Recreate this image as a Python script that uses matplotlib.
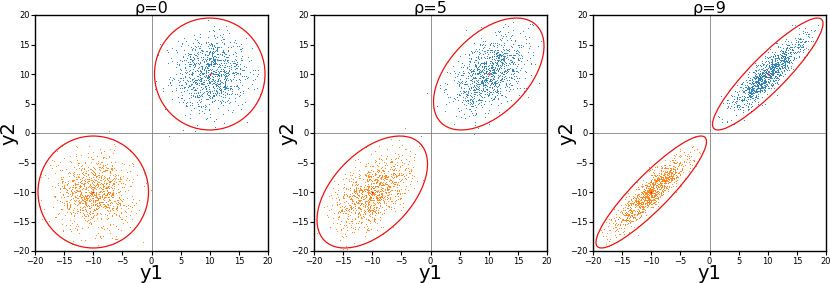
import numpy as np
import matplotlib
matplotlib.use("Agg")
import matplotlib.pyplot as plt
from matplotlib.patches import Ellipse

# Data (distribution parameters)
rhos = [0, 5, 9]
titles = ["ρ=0", "ρ=5", "ρ=9"]
variance = 10.0
mean_blue = [10.0, 10.0]
mean_orange = [-10.0, -10.0]
n_points = 1000
n_sigma = 3.0
tick_vals = [-20, -15, -10, -5, 0, 5, 10, 15, 20]

rng = np.random.default_rng(3)

fig = plt.figure(figsize=(8.3, 2.83), dpi=100)
lefts = [35 / 830, 314 / 830, 593 / 830]
width = 233 / 830
bottom = 32 / 283
height = 236 / 283

for i, rho in enumerate(rhos):
    ax = fig.add_axes([lefts[i], bottom, width, height])
    cov = np.array([[variance, rho], [rho, variance]])
    for mean, color in [(mean_blue, "#1f77b4"), (mean_orange, "#ff7f0e")]:
        pts = rng.multivariate_normal(mean, cov, size=n_points)
        ax.scatter(pts[:, 0], pts[:, 1], s=0.5, c=color, linewidths=0, alpha=0.85)
        vals, vecs = np.linalg.eigh(cov)
        order = vals.argsort()[::-1]
        vals, vecs = vals[order], vecs[:, order]
        angle = np.degrees(np.arctan2(vecs[1, 0], vecs[0, 0]))
        w, h = 2 * n_sigma * np.sqrt(vals)
        ax.add_patch(Ellipse(mean, w, h, angle=angle, fill=False,
                             edgecolor="#ee1111", linewidth=0.9))
        ax.scatter([mean[0]], [mean[1]], s=2, c="red", linewidths=0)
    ax.axhline(0, color="gray", linewidth=0.6, zorder=0)
    ax.axvline(0, color="gray", linewidth=0.6, zorder=0)
    ax.set_xlim(-20, 20)
    ax.set_ylim(-20, 20)
    ax.set_xticks(tick_vals)
    ax.set_yticks(tick_vals)
    ax.tick_params(labelsize=6, length=3, width=0.8, pad=1)
    for sp in ax.spines.values():
        sp.set_linewidth(1.0)
    ax.text(0.5, 1.0 + 2.5 / 236, titles[i], transform=ax.transAxes,
            fontsize=11.5, ha="center", va="baseline")
    ax.set_xlabel("y1", fontsize=14, labelpad=-1)
    ax.set_ylabel("y2", fontsize=14)
    ax.yaxis.set_label_coords(-0.072, 0.5)

fig.savefig("out.png", dpi=100)
